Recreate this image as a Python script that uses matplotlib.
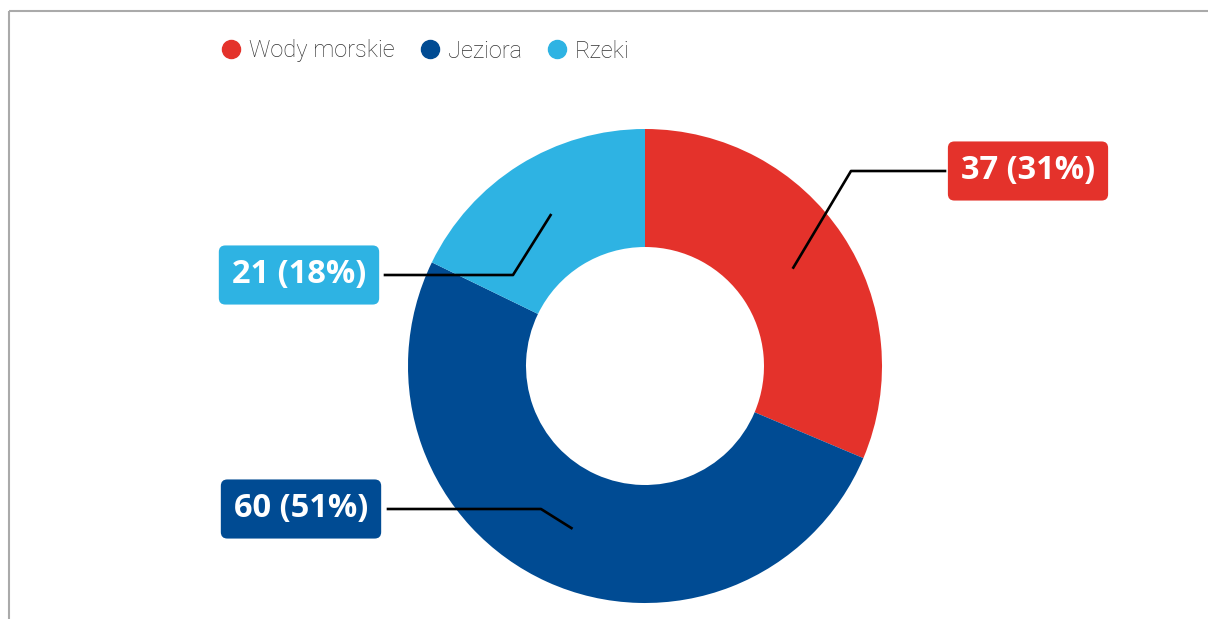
import matplotlib
matplotlib.use("Agg")
import numpy as np
from matplotlib import pyplot as plt
from matplotlib.lines import Line2D

# data
categories = ['Wody morskie', 'Jeziora', 'Rzeki']
values = [37, 60, 21]
colors = ['#E4322B', '#004B93', '#2EB3E3']

W, H = 1208, 619
legend_font = 'Roboto'
label_font = 'Open Sans'

fig = plt.figure(figsize=(W / 100, H / 100), dpi=100)
ax = fig.add_axes([0, 0, 1, 1])

cx, cy, r_out, ring = 645, 366, 237, 118
wedges, _ = ax.pie(values, colors=colors, startangle=-90, counterclock=True,
                   center=(cx, cy), radius=r_out, frame=True,
                   wedgeprops=dict(width=ring, linewidth=0))
ax.set_xlim(0, W)
ax.set_ylim(H, 0)
ax.set_aspect('equal')
ax.axis('off')

# frame border (top + left)
ax.plot([9, W], [11, 11], color='#aaaaaa', lw=1.5, solid_capstyle='butt')
ax.plot([9, 9], [11, H], color='#aaaaaa', lw=1.5, solid_capstyle='butt')

total = sum(values)
# label layout: box center, elbow x, line end x
label_xy = [(1028, 171), (301, 509), (299, 275)]
elbow_x = [851, 541, 513]
line_end = [945, 388, 385]
r_mid = r_out - ring / 2
for w, v, c, (lx, ly), ex, le in zip(wedges, values, colors, label_xy, elbow_x, line_end):
    ang = np.deg2rad((w.theta1 + w.theta2) / 2)
    px = cx + r_mid * np.cos(ang)
    py = cy + r_mid * np.sin(ang)
    ax.plot([px, ex, le], [py, ly, ly], color='black', lw=1.9)
    pct = round(v / total * 100)
    ax.text(lx, ly, f'{v} ({pct}%)', ha='center', va='center', color='white',
            fontsize=23.5, fontweight='bold', family=label_font,
            bbox=dict(boxstyle='round,pad=0.4,rounding_size=0.2', fc=c, ec='none'))

handles = [Line2D([], [], marker='o', ls='none', markersize=13, color=c) for c in colors]
ax.legend(handles, categories, loc='center left', bbox_to_anchor=(222 / W, 1 - 51 / H),
          ncol=3, frameon=False, handlelength=0.8, handletextpad=0.35, columnspacing=1.1,
          borderpad=0, borderaxespad=0,
          prop=dict(family=legend_font, size=17, weight='light'), labelcolor='#333333')

fig.savefig('out.png', dpi=100)
